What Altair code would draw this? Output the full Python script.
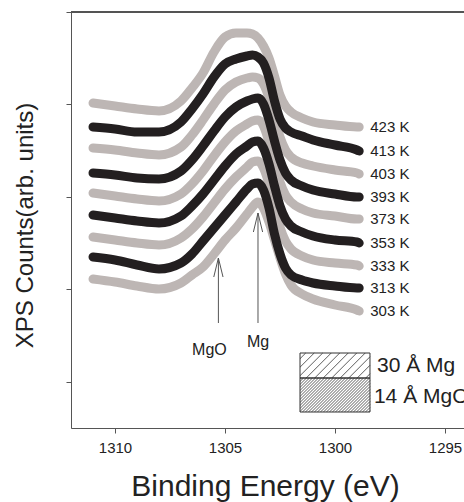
import altair as alt
import numpy as np
import pandas as pd

# Binding energy grid (eV) shared by every spectrum
energy = [1311.0, 1310.0, 1309.0, 1308.0, 1307.0, 1306.5, 1306.0, 1305.5, 1305.0, 1304.5,
          1304.0, 1303.75, 1303.5, 1303.25, 1303.0, 1302.75, 1302.5, 1302.25, 1302.0,
          1301.5, 1301.0, 1300.0, 1299.0, 1298.9]

# Mg 1s spectra (arb. units, stacked) for each annealing temperature
counts_423 = [325, 322, 319, 317, 327, 340, 355, 376, 391, 395, 395, 394, 390, 382, 370, 352, 333, 322, 316, 310, 306, 303, 301, 301]
counts_413 = [301, 299, 296, 296, 306, 319, 334, 351, 364, 369, 372, 373, 371, 365, 350, 327, 309, 300, 296, 292, 288, 283, 278, 277]
counts_403 = [280, 278, 275, 273, 281, 293, 308, 324, 338, 346, 350, 351, 350, 344, 330, 310, 291, 278, 271, 265, 262, 258, 255, 254]
counts_393 = [255, 253, 250, 249, 257, 268, 282, 297, 311, 321, 327, 329, 330, 324, 308, 287, 268, 255, 248, 242, 238, 234, 231, 231]
counts_373 = [235, 232, 229, 227, 234, 244, 257, 272, 286, 297, 304, 307, 308, 302, 286, 265, 246, 233, 226, 219, 215, 212, 209, 209]
counts_353 = [213, 210, 207, 205, 212, 222, 234, 248, 262, 274, 282, 286, 287, 280, 264, 242, 222, 209, 202, 196, 192, 188, 186, 185]
counts_333 = [191, 188, 185, 183, 190, 199, 211, 225, 239, 251, 261, 266, 267, 260, 244, 222, 201, 187, 179, 172, 168, 165, 163, 162]
counts_313 = [171, 168, 163, 159, 165, 174, 187, 200, 213, 226, 239, 244, 245, 238, 220, 194, 174, 160, 153, 148, 145, 142, 140, 140]
counts_303 = [149, 146, 142, 139, 145, 153, 161, 174, 188, 200, 214, 221, 226, 220, 206, 188, 170, 154, 143, 134, 129, 123, 118, 117]

temperatures = ["423 K", "413 K", "403 K", "393 K", "373 K", "353 K", "333 K", "313 K", "303 K"]
tones = ["gray", "black", "gray", "black", "gray", "black", "gray", "black", "gray"]
all_counts = [counts_423, counts_413, counts_403, counts_393, counts_373,
              counts_353, counts_333, counts_313, counts_303]

# Peak markers
peak_names = ["MgO", "Mg"]
peak_energy = [1305.3, 1303.5]
peak_tip = [170, 215]
peak_tail = [105, 105]
peak_label_y = [73, 81]
peak_label_dx = [-9, 0]

# Layer-stack inset
stack_names = ["30 Å Mg", "14 Å MgO"]
stack_left = [1301.59, 1301.59]
stack_right = [1298.41, 1298.41]
stack_bottom = [50, 16]
stack_top = [75, 50]
stack_text_x = [1298.09, 1298.23]
stack_text_y = [62, 31]
stack_hatch_step = [8.5, 3.0]

X_DOMAIN = [1294.136, 1312.0]
Y_DOMAIN = [0, 416]
W, H = 393, 416
PX_PER_EV = W / (X_DOMAIN[1] - X_DOMAIN[0])
PX_PER_COUNT = H / (Y_DOMAIN[1] - Y_DOMAIN[0])

GRAY = "#bdb6b4"
BLACK = "#231f20"
AXIS = "#555555"
FONT = "Liberation Sans"

rows = []
for t, tone, vals in zip(temperatures, tones, all_counts):
    for e, c in zip(energy, vals):
        rows.append({"energy": e, "counts": c, "temp": t, "tone": tone})
spectra = pd.DataFrame(rows)

ends = pd.DataFrame({
    "temp": temperatures,
    "energy": [energy[-1]] * len(temperatures),
    "counts": [v[-1] for v in all_counts],
})

x_scale = alt.Scale(domain=X_DOMAIN, reverse=True, nice=False, zero=False)
y_scale = alt.Scale(domain=Y_DOMAIN, nice=False, zero=False)

x_enc = alt.X("energy:Q", scale=x_scale, axis=alt.Axis(
    values=[1310, 1305, 1300, 1295], format="d", grid=False,
    tickSize=5, tickColor=AXIS, domainColor=AXIS, labelFontSize=15,
    labelColor="#222222", labelPadding=7, labelFont=FONT,
    title="Binding Energy (eV)", titleFontSize=30, titleFontWeight="normal",
    titleFont=FONT, titleColor="#222222", titleBaseline="alphabetic",
    titleY=67, titleX=194))
y_enc = alt.Y("counts:Q", scale=y_scale, axis=alt.Axis(
    values=[46, 139, 231, 324, 416], labels=False, grid=False,
    tickSize=5, tickColor=AXIS, domainColor=AXIS,
    title="XPS Counts(arb. units)", titleFontSize=24, titleFontWeight="normal",
    titleFont=FONT, titleColor="#222222", titleAngle=270, titleAlign="center",
    titleBaseline="alphabetic", titleX=-39, titleY=213))

base = alt.Chart(spectra)
line_style = dict(strokeWidth=9, strokeCap="round", strokeJoin="round", interpolate="monotone")
gray_lines = base.transform_filter(alt.datum.tone == "gray").mark_line(color=GRAY, **line_style).encode(
    x=x_enc, y=y_enc, detail="temp:N", order="energy:Q")
black_lines = base.transform_filter(alt.datum.tone == "black").mark_line(color=BLACK, **line_style).encode(
    x="energy:Q", y="counts:Q", detail="temp:N", order="energy:Q")

temp_labels = alt.Chart(ends).mark_text(
    align="left", baseline="middle", dx=11, fontSize=15, font=FONT, color="#222222"
).encode(x="energy:Q", y="counts:Q", text="temp:N")

# Arrows marking the MgO and Mg components
arrows = pd.DataFrame({"name": peak_names, "energy": peak_energy,
                       "tip": peak_tip, "tail": peak_tail})
shafts = alt.Chart(arrows).mark_rule(color=AXIS, strokeWidth=1).encode(
    x="energy:Q", y="tip:Q", y2="tail:Q")
wing_rows = []
for e, tip in zip(peak_energy, peak_tip):
    for side in (-1, 1):
        wing_rows.append({"e": e, "c": tip, "e2": e + side * 0.21, "c2": tip - 19})
wings = alt.Chart(pd.DataFrame(wing_rows)).mark_rule(color=AXIS, strokeWidth=1).encode(
    x="e:Q", y="c:Q", x2="e2:Q", y2="c2:Q")
peak_mgo = alt.Chart(pd.DataFrame({"name": peak_names[:1], "energy": peak_energy[:1], "y": peak_label_y[:1]})).mark_text(
    align="center", baseline="alphabetic", fontSize=16, font=FONT, color="#222222", dx=peak_label_dx[0]
).encode(x="energy:Q", y="y:Q", text="name:N")
peak_mg = alt.Chart(pd.DataFrame({"name": peak_names[1:], "energy": peak_energy[1:], "y": peak_label_y[1:]})).mark_text(
    align="center", baseline="alphabetic", fontSize=16, font=FONT, color="#222222", dx=peak_label_dx[1]
).encode(x="energy:Q", y="y:Q", text="name:N")


def hatch(e_left, e_right, c_bot, c_top, step):
    """Diagonal '/' hatch segments clipped to a box given in data units."""
    w = (e_left - e_right) * PX_PER_EV
    h = (c_top - c_bot) * PX_PER_COUNT
    segs = []
    for off in np.arange(-w + step / 2, h, step):
        u0, u1 = max(0.0, -off), min(w, h - off)
        if u1 <= u0:
            continue
        segs.append({"e": e_left - u0 / PX_PER_EV, "c": c_bot + (u0 + off) / PX_PER_COUNT,
                     "e2": e_left - u1 / PX_PER_EV, "c2": c_bot + (u1 + off) / PX_PER_COUNT})
    return segs


boxes = pd.DataFrame({"name": stack_names, "l": stack_left, "r": stack_right,
                      "b": stack_bottom, "t": stack_top})
box_fill = alt.Chart(boxes).mark_rect(fill="white", stroke=None).encode(
    x="l:Q", x2="r:Q", y="b:Q", y2="t:Q")
hatch_layers = []
for l, r, b, t, s in zip(stack_left, stack_right, stack_bottom, stack_top, stack_hatch_step):
    hatch_layers.append(alt.Chart(pd.DataFrame(hatch(l, r, b, t, s))).mark_rule(
        color="#333333", strokeWidth=0.8).encode(x="e:Q", y="c:Q", x2="e2:Q", y2="c2:Q"))
box_edge = alt.Chart(boxes).mark_rect(fill=None, stroke="#333333", strokeWidth=1).encode(
    x="l:Q", x2="r:Q", y="b:Q", y2="t:Q")
stack_text = alt.Chart(pd.DataFrame({"name": stack_names, "x": stack_text_x, "y": stack_text_y})).mark_text(
    align="left", baseline="middle", fontSize=21, font=FONT, color="#222222", clip=True
).encode(x="x:Q", y="y:Q", text="name:N")

top_frame = alt.Chart(ends).mark_rule(color=AXIS, strokeWidth=1).encode(
    x=alt.value(0), x2=alt.value(W), y=alt.value(0))

chart = alt.layer(
    gray_lines, black_lines, temp_labels, shafts, wings, peak_mgo, peak_mg,
    box_fill, *hatch_layers, box_edge, stack_text, top_frame
).properties(
    width=W, height=H,
    padding={"left": 71, "top": 12, "right": 0, "bottom": 74},
    autosize=alt.AutoSizeParams(type="none"),
).configure_view(stroke=None).configure(background="white")

chart.save("out.html", embed_options={"renderer": "svg", "actions": False})
